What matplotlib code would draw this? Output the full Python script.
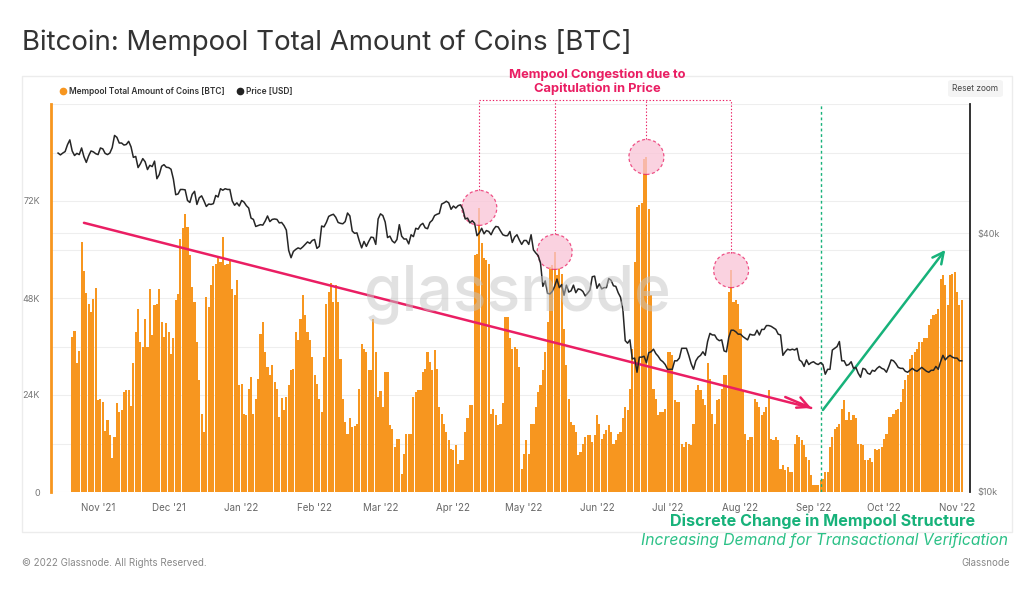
import numpy as np
import pandas as pd
import matplotlib
matplotlib.use("Agg")
import matplotlib.pyplot as plt
import matplotlib.dates as mdates
import matplotlib.transforms as mtransforms
from matplotlib.patches import Circle, Rectangle, FancyBboxPatch
from matplotlib.lines import Line2D

plt.rcParams['font.family'] = ['Inter', 'DejaVu Sans']

# mempool total amount of coins, thousands of BTC, daily from Oct 21 2021
mempool_start = "2021-10-21"
mempool_k = [
    38.4, 39.8, 31.8, 35.0, 61.9, 54.6, 49.3, 46.6, 44.5, 47.8,
    50.5, 22.7, 23.1, 22.3, 15.0, 17.7, 14.0, 8.3, 13.6, 21.9,
    19.8, 20.2, 24.8, 25.2, 25.3, 21.3, 32.0, 39.6, 45.2, 37.1,
    36.0, 42.9, 35.9, 50.3, 38.8, 46.2, 46.6, 50.2, 42.0, 38.4,
    41.8, 39.6, 34.2, 38.1, 47.4, 49.0, 62.7, 65.2, 68.9, 65.6,
    58.6, 50.7, 47.0, 37.1, 27.6, 19.4, 14.9, 48.3, 45.8, 51.2,
    56.0, 56.5, 57.8,
    56.9, 63.1, 56.1, 56.5, 57.3, 50.3, 48.7, 52.4, 26.4, 26.8,
    19.4, 19.1, 25.6, 28.5, 19.4, 23.1, 28.0, 39.2, 42.0, 34.7,
    30.9, 28.9, 31.4, 27.2, 25.6, 18.6, 23.3, 20.2, 23.5, 26.4,
    30.1, 30.5, 39.6, 37.5, 42.9, 48.7, 43.7, 39.6, 37.5, 33.4,
    28.9, 26.8, 23.1, 19.8, 33.4, 46.6, 49.5, 51.6, 47.0, 51.2,
    47.0, 33.0, 23.1, 17.3, 14.4, 18.2, 16.1, 16.3, 16.9, 25.6,
    36.7, 35.5, 34.7,
    30.1, 30.1, 42.9, 34.7, 23.5, 24.9, 21.0, 29.7, 29.7, 16.5,
    15.7, 11.1, 13.2, 13.0, 4.5, 9.5, 14.4, 14.4, 14.4, 23.5,
    24.8, 25.2, 25.2, 29.7, 30.5, 34.7, 32.2, 30.1, 35.1, 30.5,
    21.0, 19.4, 16.9, 14.9, 12.8, 10.7, 10.3, 11.6, 7.0, 7.8,
    7.8, 14.9, 18.2, 21.5, 21.5, 58.6, 59.0, 70.3, 61.5, 57.8,
    57.3, 56.5, 19.4, 20.6, 19.0, 16.5, 16.9, 21.9, 43.3, 43.3,
    38.0, 35.5, 35.9, 35.5,
    30.9, 5.8, 9.5, 12.8, 9.5, 16.9, 16.9, 21.0, 24.8, 26.4,
    30.1, 34.7, 42.0, 55.7, 56.1, 59.4, 53.6, 55.3, 54.0, 40.4,
    31.4, 23.1, 17.3, 16.5, 14.9, 9.1, 9.9, 12.0, 13.6, 14.2,
    14.0, 12.4, 14.0, 19.0, 16.9, 13.2, 14.4, 15.3, 16.5, 14.9,
    12.0, 12.8, 14.4, 14.9, 18.2, 21.0, 20.2, 25.6, 35.5, 56.9,
    70.5, 71.0, 71.4, 82.5, 82.9, 70.1, 48.7, 25.6, 23.1, 19.0,
    19.8, 19.8, 20.6, 34.7,
    34.7, 33.8, 22.7, 22.3, 22.3, 12.0, 11.1, 12.4, 12.0, 11.6,
    16.9, 25.2, 26.4, 25.2, 23.1, 21.5, 31.8, 28.0, 19.4, 16.9,
    22.7, 23.1, 25.6, 28.9, 28.9, 49.5, 54.9, 47.0, 47.4, 46.6,
    40.4, 25.2, 14.4, 12.8, 13.6, 13.6, 23.1, 22.3, 21.0, 19.0,
    19.8, 21.0, 25.2, 13.2, 12.8, 13.6, 12.8, 5.8, 6.6, 5.4,
    6.2, 5.0, 5.0, 12.0, 14.0, 13.6, 12.8, 11.6, 8.7, 7.8,
    4.1, 1.7, 1.7, 1.7,
    2.9, 3.3, 5.0, 5.0, 11.1, 13.6, 15.7, 16.1, 16.9, 20.6,
    22.7, 17.7, 19.8, 17.7, 19.0, 18.2, 12.0, 12.0, 11.6, 7.8,
    7.8, 8.3, 7.4, 10.7, 10.3, 10.7, 11.1, 13.2, 14.4, 18.6,
    18.6, 19.4, 20.2, 20.6, 22.3, 25.6, 27.6, 28.9, 33.0, 33.8,
    34.7, 35.5, 37.1, 37.1, 38.0, 38.0, 41.3, 42.9, 43.7, 44.1,
    45.4, 52.8, 53.6, 51.2, 46.2, 53.6, 54.0, 54.5, 49.5, 46.2,
    47.4,
]

# BTC price, thousands of USD, daily from Oct 15 2021
price_start = "2021-10-15"
price_k = [
    # Oct 15-31 2021
    61.5, 60.9, 61.5, 62.0, 64.3, 66.0, 62.2, 60.7, 61.4, 61.0,
    63.2, 60.3, 58.5, 60.6, 62.2, 61.9, 61.3,
    # Nov
    61.0, 63.2, 62.9, 61.4, 61.0, 61.5, 63.3, 67.6, 66.9, 64.9,
    64.9, 64.2, 64.4, 65.5, 63.6, 60.1, 60.4, 56.9, 58.1, 59.7,
    58.7, 56.3, 57.6, 57.2, 58.9, 53.6, 54.8, 57.3, 57.8, 57.0,
    # Dec
    56.9, 56.4, 53.5, 49.2, 49.4, 50.6, 50.6, 50.5, 47.7, 47.2,
    49.3, 50.1, 46.7, 48.4, 48.9, 47.6, 46.2, 46.8, 46.7, 46.9,
    49.0, 48.6, 50.8, 50.4, 50.8, 50.6, 50.6, 47.6, 46.5, 47.1, 46.3,
    # Jan 2022
    47.7, 47.3, 46.4, 45.8, 43.4, 43.1, 41.5, 41.7, 41.9, 41.8,
    42.7, 43.9, 42.6, 43.1, 43.2, 43.1, 42.3, 42.4, 41.7, 40.7,
    36.5, 35.1, 36.3, 36.7, 37.0, 36.8, 37.2, 37.7, 38.2, 37.9, 38.5,
    # Feb
    38.7, 36.9, 37.3, 41.6, 41.4, 42.4, 43.8, 44.1, 44.3, 43.6,
    42.4, 42.2, 42.1, 42.6, 44.6, 43.9, 40.5, 40.0, 40.1, 38.4,
    37.0, 38.3, 37.3, 38.3, 39.2, 39.1, 37.7, 43.2,
    # Mar
    44.4, 44.0, 42.5, 39.1, 39.4, 38.4, 38.0, 38.7, 41.9, 39.4,
    38.8, 38.8, 37.8, 39.7, 39.3, 41.1, 40.9, 41.8, 42.2, 41.2,
    41.0, 42.4, 42.9, 44.0, 44.3, 44.5, 46.8, 47.1, 47.5, 47.1, 45.5,
    # Apr
    46.3, 45.8, 46.4, 46.6, 45.5, 43.2, 43.4, 42.3, 42.8, 42.2,
    39.5, 40.1, 41.1, 39.9, 40.6, 40.4, 39.7, 40.8, 41.5, 41.4,
    40.5, 39.7, 39.5, 39.5, 40.4, 38.1, 39.2, 39.7, 38.6, 37.7,
    # May
    38.5, 38.5, 37.7, 39.7, 36.6, 36.0, 35.5, 34.1, 30.1, 31.0,
    29.0, 28.9, 29.3, 30.1, 31.3, 29.9, 30.4, 28.7, 30.3, 29.2,
    29.4, 30.3, 29.1, 29.7, 29.6, 29.3, 28.6, 29.0, 29.5, 31.7, 31.8,
    # Jun
    29.8, 30.5, 29.7, 29.9, 29.9, 31.4, 31.1, 30.2, 30.1, 29.1,
    28.4, 26.6, 22.5, 22.2, 22.6, 20.4, 20.5, 19.0, 20.6, 20.6,
    20.7, 20.0, 21.1, 21.2, 21.5, 21.0, 20.7, 20.3, 20.1, 19.8,
    # Jul
    19.3, 19.3, 19.3, 20.2, 20.2, 20.5, 21.6, 21.6, 21.6, 20.8,
    19.9, 19.3, 20.2, 20.6, 20.8, 21.2, 20.8, 22.4, 23.4, 23.2,
    23.2, 22.7, 22.5, 22.6, 21.3, 21.2, 22.9, 23.8, 23.8, 23.6, 23.3,
    # Aug
    23.3, 23.0, 22.8, 22.6, 23.3, 23.2, 23.2, 23.8, 23.2, 23.9,
    23.9, 24.4, 24.4, 24.3, 24.1, 23.9, 23.3, 23.2, 20.8, 21.2,
    21.5, 21.4, 21.5, 21.4, 21.6, 20.3, 20.1, 19.6, 20.3, 19.8, 20.0,
    # Sep
    20.1, 19.9, 19.8, 20.0, 19.8, 18.8, 19.3, 19.3, 21.4, 21.6,
    21.8, 22.4, 20.2, 20.2, 19.7, 19.8, 20.1, 19.4, 19.5, 18.9,
    18.5, 19.4, 19.3, 18.9, 18.8, 19.2, 19.1, 19.4, 19.6, 19.4,
    # Oct
    19.3, 19.0, 19.6, 20.3, 20.2, 19.9, 19.5, 19.4, 19.4, 19.1,
    19.0, 19.2, 19.4, 19.2, 19.1, 19.3, 19.5, 19.3, 19.1, 19.0,
    19.2, 19.2, 19.6, 19.3, 20.1, 20.8, 20.3, 20.6, 20.8, 20.6, 20.5,
    # Nov 1-3
    20.5, 20.2, 20.2,
]

month_ticks = pd.date_range("2021-11-01", "2022-11-01", freq="MS")
month_labels = [d.strftime("%b '%y") for d in month_ticks]
left_ticks = [0, 24000, 48000, 72000]
left_labels = ["0", "24K", "48K", "72K"]
right_ticks = [10000, 40000]
right_labels = ["$10k", "$40k"]

ORANGE = "#f7961f"
PINK = "#ea1e63"
GREEN = "#17b27a"
W, H = 1024, 590


def fx(px):
    return px / W


def fy(py):
    return 1 - py / H


def dnum(s):
    return mdates.date2num(pd.Timestamp(s))


mem_dates = pd.date_range(mempool_start, periods=len(mempool_k), freq="D")
price_dates = pd.date_range(price_start, periods=len(price_k), freq="D")
mem = np.array(mempool_k) * 1000
price = np.array(price_k) * 1000

fig = plt.figure(figsize=(10.24, 5.9), dpi=100)
fig.patch.set_facecolor("white")

# chart panel border
fig.add_artist(Rectangle((fx(22), fy(532)), fx(990), (532 - 76) / H,
                         transform=fig.transFigure, fill=False,
                         edgecolor="#ececec", lw=1))

ax = fig.add_axes([fx(51), fy(492), fx(970 - 51), (492 - 104) / H])
ax.set_facecolor("none")
ax.bar(mem_dates, mem, width=0.9, color=ORANGE, lw=0, zorder=2)
ax.set_xlim(pd.Timestamp("2021-10-12"), pd.Timestamp("2022-11-06 12:00"))
ax.set_ylim(0, 96000)
ax.set_yticks(np.arange(0, 96001, 12000), minor=True)
ax.set_yticks(left_ticks)
ax.set_yticklabels(left_labels)
ax.yaxis.grid(True, which="both", color="#eeeeee", lw=0.8)
ax.set_axisbelow(True)
ax.tick_params(axis="y", which="both", length=0, pad=8, labelsize=6.5,
               labelcolor="#777777")
ax.set_xticks(month_ticks)
ax.set_xticklabels(month_labels)
ax.tick_params(axis="x", length=0, pad=8, labelsize=7, labelcolor="#666666")
for s in ["top", "right", "bottom"]:
    ax.spines[s].set_visible(False)
ax.spines["left"].set_color(ORANGE)
ax.spines["left"].set_linewidth(2)

# $40k gridline of the price axis, drawn under the bars
frac40 = np.log10(40000 / 10000) / np.log10(80000 / 10000)
ax.plot([0, 1], [frac40, frac40], transform=ax.transAxes, color="#eeeeee",
        lw=0.8, zorder=1)

ax2 = ax.twinx()
ax2.plot(price_dates, price, color="#262626", lw=1.1, zorder=3)
ax2.set_yscale("log")
ax2.set_ylim(10000, 80000)
ax2.set_yticks(right_ticks)
ax2.set_yticklabels(right_labels)
ax2.yaxis.set_minor_locator(matplotlib.ticker.NullLocator())
ax2.tick_params(axis="y", length=0, pad=5, labelsize=6.5, labelcolor="#777777")
for s in ["top", "left", "bottom"]:
    ax2.spines[s].set_visible(False)
ax2.spines["right"].set_color("#222222")
ax2.spines["right"].set_linewidth(1.3)

# congestion peaks: circles on bar tops, dotted leaders to the label
windows = [("2022-04-05", "2022-04-20"), ("2022-05-05", "2022-05-20"),
           ("2022-06-10", "2022-06-30"), ("2022-07-25", "2022-08-05")]
r_in = 0.175
r_data = r_in * 100 / 388 * 96000
top_y = 97000
peak_x = []
for a, b in windows:
    sel = (mem_dates >= a) & (mem_dates <= b)
    i = np.argmax(np.where(sel, mem, -1))
    xn = mdates.date2num(mem_dates[i])
    yv = mem[i]
    peak_x.append(xn)
    trans = fig.dpi_scale_trans + mtransforms.ScaledTranslation(xn, yv, ax.transData)
    c = Circle((0, 0), r_in, transform=trans, facecolor="#f9c4d6", alpha=0.75,
               edgecolor=PINK, lw=0.9, ls=(0, (2.5, 2)), zorder=5)
    ax.add_artist(c)
    ax.plot([xn, xn], [yv + r_data, top_y], color=PINK, lw=0.8,
            ls=(0, (1.2, 1.8)), clip_on=False, zorder=5)
ax.plot([peak_x[0], peak_x[-1]], [top_y, top_y], color=PINK, lw=0.8,
        ls=(0, (1.2, 1.8)), clip_on=False, zorder=5)

# downtrend arrow
down_start = (dnum("2021-10-26"), 66600)
down_end = (dnum("2022-08-31"), 20800)
ax.plot([down_start[0], down_end[0]], [down_start[1], down_end[1]],
        color=PINK, lw=1.8, solid_capstyle="round", zorder=6)
ax.annotate("", xy=down_end, xytext=(dnum("2022-08-20"), 23500),
            arrowprops=dict(arrowstyle="->,head_length=0.8,head_width=0.4",
                            color=PINK, lw=1.8, shrinkA=0, shrinkB=0), zorder=6)

# structural change marker and uptrend arrow
ax.axvline(dnum("2022-09-04"), color=GREEN, lw=1, ls=(0, (2, 2)), zorder=6)
ax.annotate("", xy=(dnum("2022-10-27"), 59900),
            xytext=(dnum("2022-09-05"), 20300),
            arrowprops=dict(arrowstyle="->,head_length=0.8,head_width=0.4",
                            color=GREEN, lw=1.8, shrinkA=0, shrinkB=0), zorder=6)

# watermark
fig.text(0.505, fy(294), "glassnode", ha="center", va="center", fontsize=45,
         color="#c4c4c4", alpha=0.5, fontweight="medium", zorder=10)

# texts
fig.text(fx(22), fy(42), "Bitcoin: Mempool Total Amount of Coins [BTC]",
         ha="left", va="center", fontsize=19.9, color="#333333")
fig.text(fx(597), fy(82), "Mempool Congestion due to\nCapitulation in Price",
         ha="center", va="center", fontsize=9.3, fontweight="bold",
         color=PINK, linespacing=1.2)
fig.text(fx(823), fy(521), "Discrete Change in Mempool Structure",
         ha="center", va="center", fontsize=11.6, fontweight="bold", color=GREEN)
fig.text(fx(1008), fy(540), "Increasing Demand for Transactional Verification",
         ha="right", va="center", fontsize=11.3, style="italic", color="#2cc187")
fig.text(fx(22), fy(563), "\u00a9 2022 Glassnode. All Rights Reserved.",
         ha="left", va="center", fontsize=7, color="#888888")
fig.text(fx(1010), fy(563), "Glassnode", ha="right", va="center",
         fontsize=7, color="#888888")

# legend
fig.add_artist(Line2D([fx(63)], [fy(91)], marker="o", ms=4.5, color=ORANGE,
                      transform=fig.transFigure))
fig.text(fx(69), fy(91), "Mempool Total Amount of Coins [BTC]", ha="left",
         va="center", fontsize=6, fontweight="semibold", color="#333333")
fig.add_artist(Line2D([fx(240)], [fy(91)], marker="o", ms=4.5, color="#222222",
                      transform=fig.transFigure))
fig.text(fx(246), fy(91), "Price [USD]", ha="left", va="center", fontsize=6,
         fontweight="semibold", color="#333333")

# reset zoom button
fig.add_artist(FancyBboxPatch((fx(948), fy(97)), fx(55), 17 / H,
                              boxstyle="round,pad=0,rounding_size=0.004",
                              transform=fig.transFigure, facecolor="#f4f4f4",
                              edgecolor="none"))
fig.text(fx(975.5), fy(88.5), "Reset zoom", ha="center", va="center",
         fontsize=6, color="#444444")

fig.savefig("out.png", dpi=100)
